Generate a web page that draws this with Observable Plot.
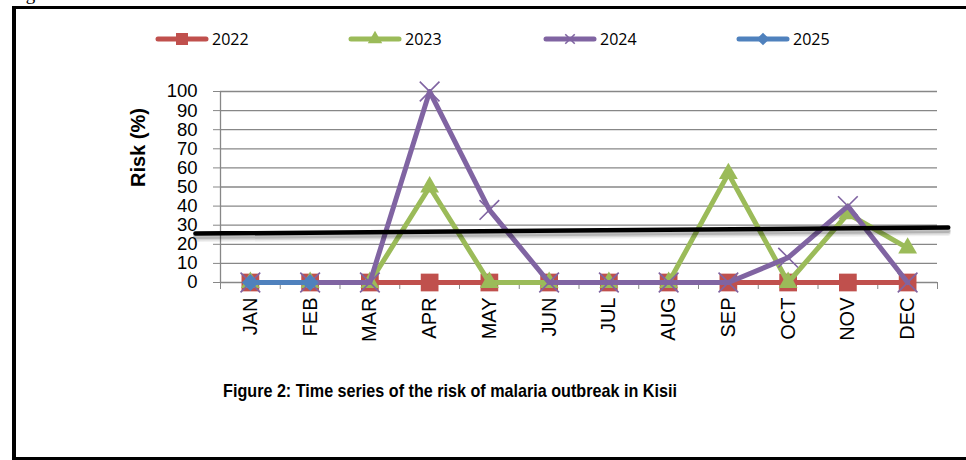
<!DOCTYPE html>
<html><head><meta charset="utf-8">
<script src="https://cdn.jsdelivr.net/npm/d3@7"></script>
<script src="https://cdn.jsdelivr.net/npm/@observablehq/plot@0.6"></script>
<style>
html,body{margin:0;padding:0;background:#fff;}
body{width:966px;height:460px;overflow:hidden;position:relative;font-family:"Liberation Sans",Arial,sans-serif;}
#fig{position:absolute;left:10px;top:-16px;font-family:"Liberation Serif",serif;font-size:19px;line-height:19px;color:#000;}
#frame{position:absolute;left:12px;top:6px;width:980px;height:448px;border-left:4px solid #000;border-top:3px solid #000;border-bottom:3px solid #000;}
#legend{position:absolute;top:29px;left:0;width:966px;height:20px;}
.item{position:absolute;top:0;height:20px;display:flex;align-items:center;font-family:"Open Sans",sans-serif;font-size:16px;color:#000;}
.item svg{margin-right:3px;}
#chart{position:absolute;left:0;top:60px;}
#caption{position:absolute;top:380px;left:0;width:900px;text-align:center;}
#caption span{display:inline-block;transform:scaleX(0.85);transform-origin:50% 50%;font-family:"Liberation Sans",sans-serif;font-weight:bold;font-size:19px;color:#000;white-space:nowrap;}
</style></head>
<body>
<div id="fig">Figure 2.</div>
<div id="frame"></div>
<div id="legend"></div>
<div id="chart"></div>
<div id="caption"><span>Figure 2: Time series of the risk of malaria outbreak in Kisii</span></div>
<script>
const months = ["JAN","FEB","MAR","APR","MAY","JUN","JUL","AUG","SEP","OCT","NOV","DEC"];
const years = ["2022","2023","2024","2025"];
const v2022 = [0,0,0,0,0,0,0,0,0,0,0,0];
const v2023 = [0,0,0,50,0,0,0,0,57,0,36,18];
const v2024 = [0,0,0,100,38,0,0,0,0,13,40,0];
const v2025 = [0,0];
const colors = ["#C0504D","#9BBB59","#8064A2","#4F81BD"];
const symbols = ["square","triangle","times","diamond"];
const yTicks = [0,10,20,30,40,50,60,70,80,90,100];
const yLabel = "Risk (%)";
// hand-drawn threshold line (month-index units, risk %)
const thresholdX = [0.08, 12.68];
const thresholdY = [25.6, 28.8];

const seriesValues = [v2022, v2023, v2024, v2025];
const series = years.map((y, k) => seriesValues[k].map((v, i) => ({m: i + 1, v, year: y})));
const threshold = thresholdX.map((x, i) => ({x, y: thresholdY[i]}));

const grid = "#878787";
const marks = [
  Plot.ruleY(yTicks.slice(1), {stroke: grid, strokeWidth: 1.3}),
  Plot.axisY({ticks: yTicks, tickSize: 7, tickPadding: 16, fontSize: 18.5, stroke: grid, label: null}),
  Plot.axisX({ticks: d3.range(0.5, 13, 1), tickSize: 7, tickFormat: () => "", stroke: grid, label: null}),
  Plot.axisX({ticks: d3.range(1, 13), tickSize: 0, tickPadding: 15, tickRotate: -90, fontSize: 20, tickFormat: i => months[i - 1], label: null}),
  Plot.ruleY([0], {stroke: grid, strokeWidth: 1.3}),
  Plot.ruleX([0.5], {y1: yTicks[0], y2: yTicks[yTicks.length - 1], stroke: grid, strokeWidth: 1.3}),
  Plot.text([yLabel], {frameAnchor: "left", dx: -82, rotate: -90, fontSize: 20, fontWeight: "bold"})
];
series.forEach((rows, k) => {
  marks.push(Plot.line(rows, {x: "m", y: "v", stroke: colors[k], strokeWidth: 5}));
  if (symbols[k] === "times") {
    marks.push(Plot.dot(rows, {x: "m", y: "v", symbol: "times", r: 9, stroke: colors[k], strokeWidth: 1.6}));
  } else if (symbols[k] === "diamond") {
    marks.push(Plot.dot(rows, {x: "m", y: "v", symbol: "square", rotate: 45, r: 6.8, fill: colors[k]}));
  } else if (symbols[k] === "triangle") {
    marks.push(Plot.dot(rows, {x: "m", y: "v", symbol: "triangle", r: 7, fill: colors[k]}));
  } else {
    marks.push(Plot.dot(rows, {x: "m", y: "v", symbol: "square", r: 10, fill: colors[k]}));
  }
});
// threshold line with soft shadow
[[6, 0.06], [4.5, 0.1], [3, 0.16]].forEach(([dy, op]) =>
  marks.push(Plot.line(threshold, {x: "x", y: "y", stroke: "#000", strokeOpacity: op, strokeWidth: 5, dy}))
);
marks.push(Plot.line(threshold, {x: "x", y: "y", stroke: "#000", strokeWidth: 4.5}));

const chart = Plot.plot({
  width: 966, height: 310,
  marginLeft: 220, marginRight: 29, marginTop: 31, marginBottom: 88,
  x: {type: "linear", domain: [0.5, 12.5]},
  y: {domain: [0, 100]},
  style: {fontFamily: "'Liberation Sans', Arial, sans-serif", fontSize: "20px", color: "#000", background: "transparent", overflow: "visible"},
  marks
});
document.getElementById("chart").appendChild(chart);

// legend
const legend = document.getElementById("legend");
const legendLeft = [155, 348, 543, 736];
years.forEach((y, k) => {
  const div = document.createElement("div");
  div.className = "item";
  div.style.left = legendLeft[k] + "px";
  const svg = d3.create("svg").attr("width", 54).attr("height", 20);
  svg.append("line").attr("x1", 3).attr("x2", 51).attr("y1", 10).attr("y2", 10)
    .attr("stroke", colors[k]).attr("stroke-width", 5).attr("stroke-linecap", "round");
  const g = svg.append("g").attr("transform", "translate(27,10)");
  if (symbols[k] === "square") g.append("rect").attr("x", -6).attr("y", -6).attr("width", 12).attr("height", 12).attr("fill", colors[k]);
  if (symbols[k] === "triangle") g.append("path").attr("d", d3.symbol(d3.symbolTriangle, 90)()).attr("fill", colors[k]);
  if (symbols[k] === "times") g.append("path").attr("d", d3.symbol(d3.symbolTimes, 60)()).attr("stroke", colors[k]).attr("stroke-width", 1.6).attr("fill", "none");
  if (symbols[k] === "diamond") g.append("rect").attr("x", -4.5).attr("y", -4.5).attr("width", 9).attr("height", 9).attr("transform", "rotate(45)").attr("fill", colors[k]);
  div.appendChild(svg.node());
  const t = document.createElement("span");
  t.textContent = y;
  div.appendChild(t);
  legend.appendChild(div);
});
</script>
</body></html>
